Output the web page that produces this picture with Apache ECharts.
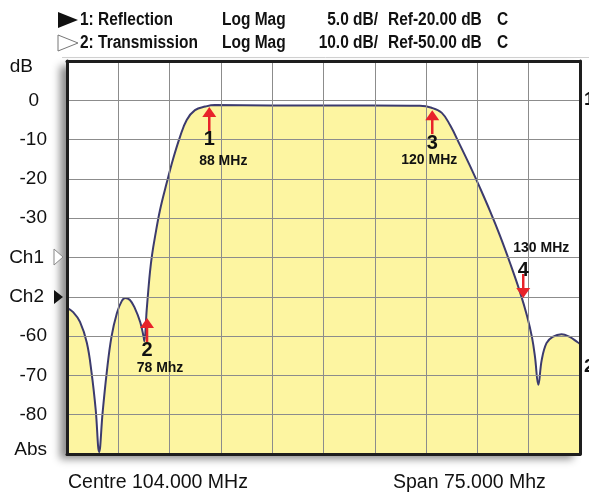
<!DOCTYPE html>
<html><head><meta charset="utf-8">
<script src="https://cdn.jsdelivr.net/npm/echarts@6/dist/echarts.min.js"></script>
<style>html,body{margin:0;padding:0;background:#fff}#c{width:589px;height:494px}</style>
</head><body><div id="c"></div>
<script>
const CENTRE = 104;
const SPAN = 75;
const freqMHz = [66.5, 67.4, 68.4, 69.4, 70.1, 70.7, 71.2, 71.7, 72.3, 73.0, 73.8, 74.5, 75.0, 75.7, 76.4, 77.2, 77.7, 77.8, 78.15, 78.39, 78.63, 78.93, 79.37, 80.1, 81.08, 82.0, 83.02, 84.0, 85.21, 86.7, 88.1, 96.2, 111.2, 118.1, 119.8, 121.3, 122.5, 123.96, 125.42, 126.88, 128.35, 129.81, 131.27, 132.73, 133.76, 134.49, 134.92, 135.41, 135.9, 136.6, 137.5, 138.8, 140.0, 141.1, 141.5];
const transDb = [-52.8, -53.9, -56.4, -61.7, -69.4, -78.8, -89.5, -79.6, -69.4, -60.2, -54.1, -51.1, -50.3, -50.8, -52.8, -56.4, -60.2, -61.3, -53.4, -48.3, -43.7, -39.4, -34.7, -27.9, -21.0, -15.0, -9.3, -5.0, -2.5, -1.6, -1.2, -1.3, -1.3, -1.4, -1.9, -3.2, -6.3, -11.4, -16.7, -22.3, -28.2, -34.5, -41.4, -48.8, -54.9, -60.4, -65.3, -72.4, -66.1, -61.8, -60.2, -59.5, -60.2, -61.5, -62.0];
const yTickValues = [10, 0, -10, -20, -30, -40, -50, -60, -70, -80, -90];
const yTickLabels = ['dB', '0', '-10', '-20', '-30', 'Ch1', 'Ch2', '-60', '-70', '-80', 'Abs'];
const markerFreq = [87.3, 78.2, 119.9, 133.2];
const markerDb = [-1.7, -55.4, -2.5, -50.3];
const markerNum = ['1', '2', '3', '4'];
const markerText = ['88 MHz', '78 Mhz', '120 MHz', '130 MHz'];
const header1 = ['1: Reflection', 'Log Mag', '5.0 dB/', 'Ref-20.00 dB', 'C'];
const header2 = ['2: Transmission', 'Log Mag', '10.0 dB/', 'Ref-50.00 dB', 'C'];
const footerLeft = 'Centre 104.000 MHz';
const footerRight = 'Span 75.000 Mhz';

// layout/styling (not data)
const markerLayout = [
  {dir: 1, numDy: 33, fdx: 14, fdy: 54},
  {dir: 1, numDy: 32, fdx: 13, fdy: 50},
  {dir: 1, numDy: 33, fdx: -3, fdy: 50},
  {dir: -1, numDy: 27, fdx: 18, fdy: 50}
];
const FONT = "'Liberation Sans', Arial, Helvetica, sans-serif";
const RED = '#e8232a';

function setText(style) {
  style.textAlign = style.align; style.textVerticalAlign = style.verticalAlign;
  return style;
}

const headerX = [[80, 'left'], [222, 'left'], [378, 'right'], [388, 'left'], [497, 'left']];
const graphics = [];
[header1, header2].forEach((row, r) => {
  row.forEach((t, j) => {
    graphics.push({type: 'text', x: headerX[j][0], y: r === 0 ? 20 : 43, scaleX: 0.86, scaleY: 1,
      style: setText({text: t, font: 'bold 18px ' + FONT, fill: '#111', align: headerX[j][1], verticalAlign: 'middle'})});
  });
});
graphics.push({type: 'polygon', shape: {points: [[58, 12], [78, 20], [58, 28]]}, style: {fill: '#111'}});
graphics.push({type: 'polygon', shape: {points: [[58, 35], [78, 43], [58, 51]]}, style: {fill: '#fff', stroke: '#777', lineWidth: 1}});
graphics.push({type: 'polygon', shape: {points: [[54, 249], [63, 257], [54, 265]]}, style: {fill: '#fff', stroke: '#888', lineWidth: 1}});
graphics.push({type: 'polygon', shape: {points: [[54, 290], [63, 297], [54, 304]]}, style: {fill: '#111'}});
graphics.push({type: 'line', shape: {x1: 62, y1: 57.5, x2: 589, y2: 57.5}, style: {stroke: '#d0d0d0', lineWidth: 1}});
graphics.push({type: 'text', x: 68, y: 483, style: setText({text: footerLeft, font: '19.5px ' + FONT, fill: '#111', align: 'left', verticalAlign: 'middle'})});
graphics.push({type: 'text', x: 393, y: 483, style: setText({text: footerRight, font: '19.5px ' + FONT, fill: '#111', align: 'left', verticalAlign: 'middle'})});
graphics.push({type: 'text', x: 584, y: 100, style: setText({text: '1', font: 'bold 19px ' + FONT, fill: '#111', align: 'left', verticalAlign: 'middle'})});
graphics.push({type: 'text', x: 584, y: 367, style: setText({text: '2', font: 'bold 19px ' + FONT, fill: '#111', align: 'left', verticalAlign: 'middle'})});

const labFont = {fontFamily: FONT, fontSize: 19, color: '#111'};
const chart = echarts.init(document.getElementById('c'));
chart.setOption({
  animation: false,
  backgroundColor: '#fff',
  grid: {left: 67, right: 9, top: 61, bottom: 40, show: true, backgroundColor: '#fff', borderWidth: 0,
    shadowColor: 'rgba(0,0,0,0.45)', shadowBlur: 8, shadowOffsetX: -7, shadowOffsetY: 5},
  graphic: graphics,
  xAxis: [
    {type: 'value', min: -SPAN / 2, max: SPAN / 2, interval: SPAN / 10, z: 3,
      axisLine: {show: true, onZero: false, lineStyle: {color: '#1e1e1e', width: 3}},
      axisTick: {show: false}, axisLabel: {show: false},
      splitLine: {show: true, lineStyle: {color: '#8c8c8c', width: 1}}},
    {type: 'value', position: 'top', min: -SPAN / 2, max: SPAN / 2, z: 3,
      axisLine: {show: true, onZero: false, lineStyle: {color: '#1e1e1e', width: 3}},
      axisTick: {show: false}, axisLabel: {show: false}, splitLine: {show: false}}
  ],
  yAxis: [
    {type: 'value', min: -90, max: 10, interval: 10, z: 3,
      axisLine: {show: true, onZero: false, lineStyle: {color: '#1e1e1e', width: 3}},
      axisTick: {show: false},
      splitLine: {show: true, lineStyle: {color: '#8c8c8c', width: 1}},
      axisLabel: {show: true, margin: 20, ...labFont,
        formatter: v => {
          const i = yTickValues.indexOf(Math.round(v));
          if (i < 0) return '';
          const t = yTickLabels[i];
          const k = t === 'dB' ? 'u' : t === 'Abs' ? 'b' : t === '0' ? 'z' : t.indexOf('Ch') === 0 ? 'c' : 'n';
          return '{' + k + '|' + t + '}';
        },
        rich: {
          n: {...labFont},
          u: {...labFont, padding: [12, 14, 0, 0]},
          b: {...labFont, padding: [0, 0, 8, 0]},
          z: {...labFont, padding: [0, 8, 0, 0]},
          c: {...labFont, padding: [0, 3, 0, 0]}
        }}},
    {type: 'value', position: 'right', min: -90, max: 10, z: 3,
      axisLine: {show: true, onZero: false, lineStyle: {color: '#1e1e1e', width: 3}},
      axisTick: {show: false}, axisLabel: {show: false}, splitLine: {show: false}}
  ],
  series: [
    {type: 'line', name: '2: Transmission', data: freqMHz.map((f, i) => [f - CENTRE, transDb[i]]),
      smooth: 0.4, symbol: 'none', z: 2,
      lineStyle: {color: '#3c3b6e', width: 2},
      areaStyle: {color: '#fdf5a1', opacity: 1, origin: 'start'}},
    {type: 'custom', name: 'markers', z: 10, clip: false,
      data: markerFreq.map((f, i) => [f - CENTRE, markerDb[i]]),
      renderItem: (params, api) => {
        const i = params.dataIndex;
        const L = markerLayout[i];
        const p = api.coord([api.value(0), api.value(1)]);
        const s = L.dir;
        return {type: 'group', children: [
          {type: 'polygon', shape: {points: [[p[0], p[1]], [p[0] - 7, p[1] + s * 10], [p[0] + 7, p[1] + s * 10]]}, style: {fill: RED}},
          {type: 'line', shape: {x1: p[0], y1: p[1] + s * 8, x2: p[0], y2: p[1] + s * 24}, style: {stroke: RED, lineWidth: 2.5}},
          {type: 'text', x: p[0], y: p[1] + s * L.numDy,
            style: setText({text: markerNum[i], font: 'bold 20px ' + FONT, fill: '#111', align: 'center', verticalAlign: 'middle'})},
          {type: 'text', x: p[0] + L.fdx, y: p[1] + s * L.fdy,
            style: setText({text: markerText[i], font: 'bold 14px ' + FONT, fill: '#111', align: 'center', verticalAlign: 'middle'})}
        ]};
      }}
  ]
});
</script></body></html>
